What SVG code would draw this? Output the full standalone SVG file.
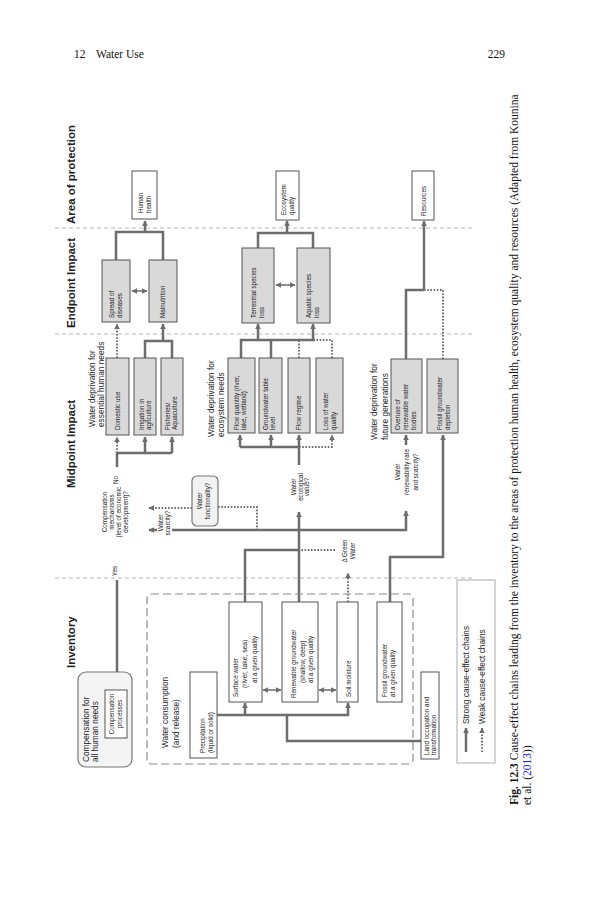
<svg xmlns="http://www.w3.org/2000/svg" width="593" height="900" viewBox="0 0 593 900">
<defs>
<style>
.hd{font-family:"Liberation Sans",Arial,sans-serif;font-weight:bold;font-size:11.5px;fill:#222}
.lb{font-family:"Liberation Sans",Arial,sans-serif;font-size:8.3px;fill:#222}
.sm{font-family:"Liberation Sans",Arial,sans-serif;font-size:6.3px;fill:#222}
.cap{font-family:"Liberation Serif","Times New Roman",serif;font-size:11.5px;fill:#111}
.box{fill:#d9d9d9;stroke:#555;stroke-width:1}
.wbox{fill:#fff;stroke:#555;stroke-width:1}
.sep{stroke:#b5b5b5;stroke-width:1;stroke-dasharray:4 3;fill:none}
.s{stroke:#6d6d6d;stroke-width:2.5;fill:none}
.w{stroke:#6d6d6d;stroke-width:2;stroke-dasharray:1.6 1.6;fill:none}
.d{stroke:#6d6d6d;stroke-width:1.5;fill:none}
</style>
<marker id="a" viewBox="0 0 10 10" refX="9" refY="5" markerWidth="6" markerHeight="6" markerUnits="userSpaceOnUse" orient="auto-start-reverse"><path d="M0,0 L10,5 L0,10 z" fill="#6d6d6d"/></marker>
</defs>
<rect width="593" height="900" fill="#fff"/>

<!-- page header and caption -->
<g id="page">
<text class="cap" x="74" y="58" font-size="11">12</text>
<text class="cap" x="96" y="58" font-size="11">Water Use</text>
<text class="cap" x="505" y="58" font-size="11" text-anchor="end">229</text>
<text class="cap" x="518" y="805" transform="rotate(-90 518 805)"><tspan font-weight="bold">Fig. 12.3</tspan>  Cause-effect chains leading from the inventory to the areas of protection human health, ecosystem quality and resources (Adapted from Kounina</text>
<text class="cap" x="531" y="805" transform="rotate(-90 531 805)">et al. (<tspan fill="#1a1aff">2013</tspan>))</text>
</g>

<!-- section headers and separators -->
<g id="sections">
<line class="sep" x1="55" y1="228" x2="475" y2="228"/>
<line class="sep" x1="55" y1="334" x2="475" y2="334"/>
<line class="sep" x1="55" y1="578" x2="475" y2="578"/>
<text class="hd" x="75" y="224" transform="rotate(-90 75 224)">Area of protection</text>
<text class="hd" x="75" y="328" transform="rotate(-90 75 328)">Endpoint Impact</text>
<text class="hd" x="75" y="488" transform="rotate(-90 75 488)">Midpoint Impact</text>
<text class="hd" x="75" y="668" transform="rotate(-90 75 668)">Inventory</text>
</g>

<!-- connectors -->
<g id="connectors">
<path class="s" d="M116,260 V232 H163 V260"/>
<path class="s" d="M145,232 V221" marker-end="url(#a)"/>
<path class="d" d="M132,291 H147" marker-start="url(#a)" marker-end="url(#a)"/>
<path class="s" d="M145,358 V341 H172 V358"/>
<path class="s" d="M163,341 V324" marker-end="url(#a)"/>
<path class="w" d="M117,358 V324" marker-end="url(#a)"/>
<path class="s" d="M117,467 V453 H172"/>
<path class="s" d="M145,453 V437" marker-end="url(#a)"/>
<path class="s" d="M172,453 V437" marker-end="url(#a)"/>
<path class="w" d="M117,453 V437" marker-end="url(#a)"/>
<path class="s" d="M117,580 V689" marker-end="url(#a)"/>
<path class="w" d="M192,508 H149" marker-end="url(#a)"/>
<path class="w" d="M218,507 H257 V530"/>
<path class="s" d="M157,530 H149" marker-end="url(#a)"/>
<path class="s" d="M172,530 H406 V511" marker-end="url(#a)"/>
<path class="s" d="M406,445 V435" marker-end="url(#a)"/>
<path class="s" d="M245,602 V550 H299"/>
<path class="s" d="M299,602 V512" marker-end="url(#a)"/>
<path class="w" d="M335,550 H299"/>
<path class="w" d="M348,602 V573" marker-end="url(#a)"/>
<path class="s" d="M299,465 V447 H240"/>
<path class="s" d="M240,447 V435" marker-end="url(#a)"/>
<path class="s" d="M271,447 V435" marker-end="url(#a)"/>
<path class="s" d="M299,447 V435" marker-end="url(#a)"/>
<path class="w" d="M299,447 H332 V435" marker-end="url(#a)"/>
<path class="s" d="M241,358 V340 H315"/>
<path class="s" d="M271,358 V340"/>
<path class="s" d="M258,340 V324" marker-end="url(#a)"/>
<path class="s" d="M313,340 V324" marker-end="url(#a)"/>
<path class="w" d="M299,358 V341"/>
<path class="w" d="M332,358 V340 H315"/>
<path class="d" d="M276,285 H295" marker-start="url(#a)" marker-end="url(#a)"/>
<path class="s" d="M258,248 V233 H313 V248"/>
<path class="s" d="M287,233 V221" marker-end="url(#a)"/>
<path class="s" d="M406,359 V290 H424"/>
<path class="s" d="M424,290 V221" marker-end="url(#a)"/>
<path class="w" d="M424,290 H443 V359"/>
<path class="s" d="M390,602 V557 H443 V435" marker-end="url(#a)"/>
<path class="s" d="M217,715 H348 V703" marker-end="url(#a)"/>
<path class="s" d="M245,715 V703" marker-end="url(#a)"/>
<path class="s" d="M287,715 V741 H421"/>
<path class="d" d="M263,690 H281" marker-start="url(#a)" marker-end="url(#a)"/>
<path class="d" d="M319,690 H336" marker-start="url(#a)" marker-end="url(#a)"/>
</g>

<!-- labels -->
<g id="labels">
<text class="lb" x="95" y="427" transform="rotate(-90 95 427)">Water deprivation for<tspan x="95" dy="8.5">essential human needs</tspan></text>
<text class="lb" x="214" y="437" transform="rotate(-90 214 437)">Water deprivation for<tspan x="214" dy="9.5">ecosystem needs</tspan></text>
<text class="lb" x="377" y="440" transform="rotate(-90 377 440)">Water deprivation for<tspan x="377" dy="11">future generations</tspan></text>
<text class="lb" x="168" y="748" transform="rotate(-90 168 748)">Water consumption<tspan x="168" dy="11">(and release)</tspan></text>
<text class="sm" x="107" y="512" font-size="5.7" text-anchor="middle" transform="rotate(-90 107 512)">Compensation<tspan x="107" dy="7">mechanisms</tspan><tspan x="107" dy="7">(level of economic</tspan><tspan x="107" dy="7">development)?</tspan></text>
<text class="sm" x="163" y="523" font-size="5.8" text-anchor="middle" transform="rotate(-90 163 523)">Water<tspan x="163" dy="7">scarcity?</tspan></text>
<text class="sm" x="118" y="480" text-anchor="middle" transform="rotate(-90 118 480)">No</text>
<text class="sm" x="117" y="571" text-anchor="middle" transform="rotate(-90 117 571)">Yes</text>
<text class="sm" x="296" y="487" text-anchor="middle" transform="rotate(-90 296 487)">Water<tspan x="296" dy="6.5">ecological</tspan><tspan x="296" dy="6.5">value?</tspan></text>
<text class="sm" x="400" y="472" font-size="6.9" text-anchor="middle" transform="rotate(-90 400 472)">Water<tspan x="400" dy="9">renewability rate</tspan><tspan x="400" dy="9">and scarcity?</tspan></text>
<text class="sm" x="347" y="551" text-anchor="middle" transform="rotate(-90 347 551)">Δ Green<tspan x="347" dy="8">Water</tspan></text>
</g>

<!-- nodes -->
<g id="human-health"><rect class="wbox" x="132" y="171" width="25" height="48"/><text class="sm" x="143" y="213" transform="rotate(-90 143 213)">Human<tspan x="143" dy="7.5">health</tspan></text></g>
<g id="ecosystem-quality"><rect class="wbox" x="276" y="171" width="23" height="49"/><text class="sm" x="286" y="215" transform="rotate(-90 286 215)">Ecosystem<tspan x="286" dy="8">quality</tspan></text></g>
<g id="resources"><rect class="wbox" x="412" y="171" width="22" height="49"/><text class="sm" x="426" y="216" transform="rotate(-90 426 216)">Resources</text></g>

<g id="spread"><rect class="box" x="102" y="260" width="28" height="62"/><text class="sm" x="114" y="318" transform="rotate(-90 114 318)">Spread of<tspan x="114" dy="7.5">diseases</tspan></text></g>
<g id="malnutrition"><rect class="box" x="149" y="260" width="28" height="62"/><text class="sm" x="165" y="318" transform="rotate(-90 165 318)">Malnutrition</text></g>
<g id="terrestrial"><rect class="box" x="242" y="248" width="32" height="75"/><text class="sm" x="256" y="318" transform="rotate(-90 256 318)">Terrestrial species<tspan x="256" dy="8">loss</tspan></text></g>
<g id="aquatic"><rect class="box" x="297" y="248" width="33" height="75"/><text class="sm" x="311" y="318" transform="rotate(-90 311 318)">Aquatic species<tspan x="311" dy="8">loss</tspan></text></g>

<g id="domestic"><rect class="box" x="106" y="358" width="23" height="77"/><text class="sm" x="120" y="430" transform="rotate(-90 120 430)">Domestic use</text></g>
<g id="irrigation"><rect class="box" x="134" y="358" width="22" height="77"/><text class="sm" x="144" y="430" transform="rotate(-90 144 430)">Irrigation in<tspan x="144" dy="7">agriculture</tspan></text></g>
<g id="fisheries"><rect class="box" x="161" y="358" width="22" height="77"/><text class="sm" x="170" y="430" transform="rotate(-90 170 430)">Fisheries/<tspan x="170" dy="7">Aquaculture</tspan></text></g>
<g id="flow-quantity"><rect class="box" x="228" y="358" width="27" height="75"/><text class="sm" x="239" y="430" transform="rotate(-90 239 430)">Flow quantity (river,<tspan x="239" dy="7">lake, wetland)</tspan></text></g>
<g id="groundwater-table"><rect class="box" x="259" y="358" width="23" height="75"/><text class="sm" x="268" y="430" transform="rotate(-90 268 430)">Groundwater table<tspan x="268" dy="7">level</tspan></text></g>
<g id="flow-regime"><rect class="box" x="288" y="358" width="22" height="75"/><text class="sm" x="301" y="430" transform="rotate(-90 301 430)">Flow regime</text></g>
<g id="water-quality"><rect class="box" x="316" y="358" width="27" height="75"/><text class="sm" x="328" y="430" transform="rotate(-90 328 430)">Loss of water<tspan x="328" dy="8">quality</tspan></text></g>
<g id="overuse"><rect class="box" x="391" y="359" width="31" height="74"/><text class="sm" x="400" y="430" transform="rotate(-90 400 430)">Overuse of<tspan x="400" dy="8">renewable water</tspan><tspan x="400" dy="8">bodies</tspan></text></g>
<g id="fossil-depletion"><rect class="box" x="427" y="359" width="31" height="74"/><text class="sm" x="442" y="430" transform="rotate(-90 442 430)">Fossil groundwater<tspan x="442" dy="8">depletion</tspan></text></g>

<g id="water-functionality"><rect x="192" y="476" width="26" height="50" rx="5" fill="#f2f2f2" stroke="#777" stroke-width="1.2"/><text class="sm" x="202" y="501" text-anchor="middle" transform="rotate(-90 202 501)">Water<tspan x="202" dy="8">functionality?</tspan></text></g>

<g id="inventory-group"><rect x="147" y="594" width="266" height="170" rx="4" fill="none" stroke="#8a8a8a" stroke-width="1.2" stroke-dasharray="8 4"/></g>
<g id="compensation"><rect x="78" y="672" width="54" height="95" rx="8" fill="#f4f4f4" stroke="#777" stroke-width="1.2"/><text class="lb" x="89" y="762" font-size="9.5" transform="rotate(-90 89 762)">Compensation for<tspan x="89" dy="9">all human needs</tspan></text></g>
<g id="compensation-processes"><rect class="wbox" x="105" y="690" width="22" height="48"/><text class="sm" x="114" y="714" text-anchor="middle" transform="rotate(-90 114 714)">Compensation<tspan x="114" dy="8">processes</tspan></text></g>

<g id="precipitation"><rect class="wbox" x="190" y="672" width="27" height="86"/><text class="sm" x="205" y="753" font-size="6.8" transform="rotate(-90 205 753)">Precipitation<tspan x="205" dy="7.5">(liquid or solid)</tspan></text></g>
<g id="surface-water"><rect class="wbox" x="229" y="602" width="33" height="100"/><text class="sm" x="238" y="697" font-size="6.8" transform="rotate(-90 238 697)">Surface water<tspan x="247" dy="9" font-size="6.8">(river, lake, sea)</tspan></text><text class="sm" x="257" y="683" font-size="6.8" transform="rotate(-90 257 683)">at a given quality</text></g>
<g id="renewable-groundwater"><rect class="wbox" x="282" y="602" width="36" height="100"/><text class="sm" x="296" y="698" font-size="6.8" transform="rotate(-90 296 698)">Renewable groundwater</text><text class="sm" x="305" y="683" font-size="6.8" transform="rotate(-90 305 683)">(shallow, deep)<tspan x="305" dy="8">at a given quality</tspan></text></g>
<g id="soil-moisture"><rect class="wbox" x="337" y="602" width="21" height="100"/><text class="sm" x="351" y="697" font-size="6.8" transform="rotate(-90 351 697)">Soil moisture</text></g>
<g id="fossil-groundwater"><rect class="wbox" x="377" y="602" width="25" height="100"/><text class="sm" x="387" y="697" font-size="6.8" transform="rotate(-90 387 697)">Fossil groundwater<tspan x="387" dy="8">at a given quality</tspan></text></g>
<g id="land-occupation"><rect class="wbox" x="421" y="672" width="18" height="87"/><text class="sm" x="429" y="755" transform="rotate(-90 429 755)">Land occupation and<tspan x="429" dy="7">transformation</tspan></text></g>

<g id="legend"><rect x="457" y="580" width="38" height="183" fill="#fff" stroke="#aaa" stroke-width="1"/>
<path class="s" d="M466,752 V728" marker-end="url(#a)"/>
<path class="w" d="M482,752 V728" marker-end="url(#a)"/>
<text class="lb" x="469" y="724" font-size="9" transform="rotate(-90 469 724)">Strong cause-effect chains</text>
<text class="lb" x="485" y="724" font-size="9" transform="rotate(-90 485 724)">Weak cause-effect chains</text>
</g>
</svg>
